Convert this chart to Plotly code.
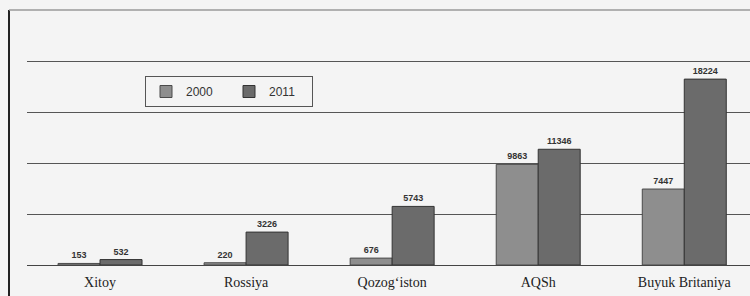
import plotly.graph_objects as go

categories = ["Xitoy", "Rossiya", "Qozog‘iston", "AQSh", "Buyuk Britaniya"]
values_2000 = [153, 220, 676, 9863, 7447]
values_2011 = [532, 3226, 5743, 11346, 18224]
series_names = ["2000", "2011"]
y_ticks = [0, 5000, 10000, 15000, 20000, 25000]

W, H = 750, 296
ml, mr, mt, mb = 27, 0, 10, 31
pw = W - ml - mr
ph = H - mt - mb

fig = go.Figure()
fig.add_trace(go.Bar(
    name=series_names[0], x=categories, y=values_2000,
    marker=dict(color="#8e8e8e", line=dict(color="#4a4a4a", width=1)),
    text=values_2000, texttemplate="<b>%{text}</b>", textposition="outside",
    textfont=dict(family="Liberation Sans", size=9, color="#333333"),
    cliponaxis=False,
))
fig.add_trace(go.Bar(
    name=series_names[1], x=categories, y=values_2011,
    marker=dict(color="#6b6b6b", line=dict(color="#333333", width=1)),
    text=values_2011, texttemplate="<b>%{text}</b>", textposition="outside",
    textfont=dict(family="Liberation Sans", size=9, color="#333333"),
    cliponaxis=False,
))

def px_x(px):
    return (px - ml) / pw

def px_y(py):
    return (H - mb - py) / ph

fig.update_layout(
    width=W, height=H,
    margin=dict(l=ml, r=mr, t=mt, b=mb),
    paper_bgcolor="#f4f4f4", plot_bgcolor="#f4f4f4",
    barmode="group", bargap=0.425, bargroupgap=0,
    showlegend=True,
    legend=dict(
        orientation="h", x=px_x(145), y=px_y(76), xanchor="left", yanchor="top",
        bgcolor="#f4f4f4", bordercolor="#555555", borderwidth=1,
        font=dict(family="Liberation Sans", size=12, color="#333333"),
        entrywidth=38, entrywidthmode="pixels",
        itemwidth=30,
        tracegroupgap=0,
    ),
    xaxis=dict(
        range=[-0.5, 4.45], showgrid=False, zeroline=False, showline=False,
        ticks="", tickfont=dict(family="Liberation Serif", size=14, color="#222222"),
        ticklabelstandoff=7,
        fixedrange=True,
    ),
    yaxis=dict(
        range=[0, 25000], tickvals=y_ticks, showticklabels=False,
        showgrid=True, gridcolor="#555555", gridwidth=1,
        zeroline=True, zerolinecolor="#444444", zerolinewidth=1,
        showline=False, fixedrange=True,
    ),
    shapes=[
        dict(type="line", xref="paper", yref="paper",
             x0=px_x(9), x1=px_x(9), y0=px_y(10), y1=px_y(296),
             line=dict(color="#222222", width=2)),
        dict(type="line", xref="paper", yref="paper",
             x0=px_x(9), x1=1, y0=px_y(10), y1=px_y(10),
             line=dict(color="#9a9a9a", width=1.5)),
    ],
)

fig.write_html(
    "out.html",
    config={"displayModeBar": False},
    post_script="document.body.style.margin='0';document.body.style.padding='0';",
)
